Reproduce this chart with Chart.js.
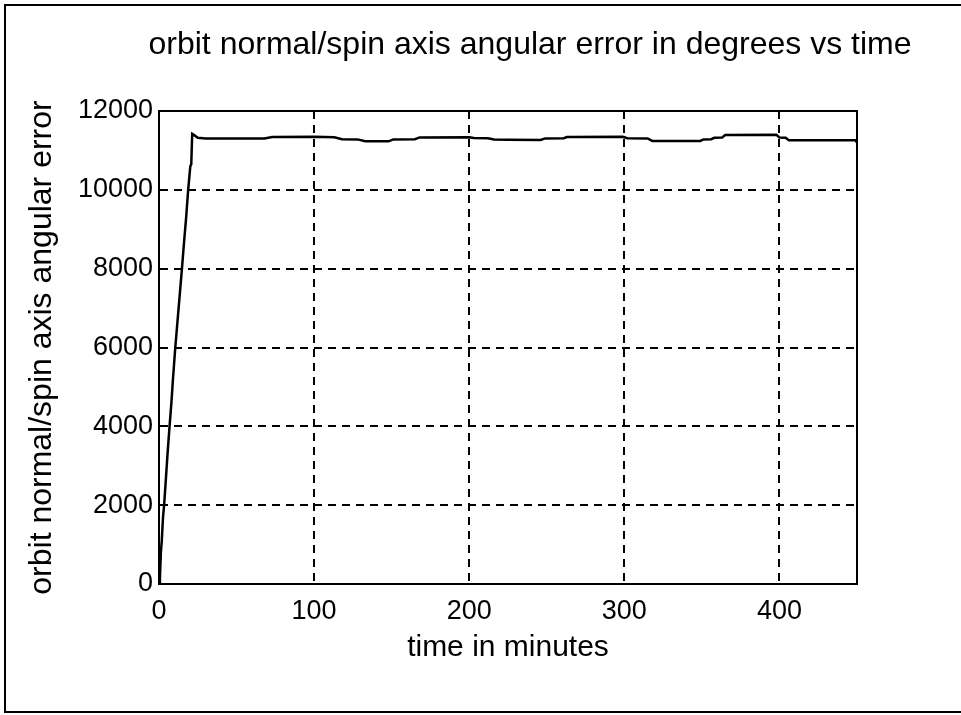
<!DOCTYPE html>
<html>
<head>
<meta charset="utf-8">
<title>orbit normal/spin axis angular error</title>
<script src="https://cdn.jsdelivr.net/npm/chart.js@4.4.0/dist/chart.umd.min.js"></script>
<style>
    html, body { margin: 0; padding: 0; background: #fff; }
    #wrap { width: 961px; height: 715px; }
</style>
</head>
<body>
<div id="wrap"><canvas id="errorChart" width="961" height="715"></canvas></div>
<script>
// Erreur angulaire (degrés), en fonction du temps (minutes)
const timeMinutes = [
    0, 0.6, 1.2, 1.8, 2.6, 3.3, 4.5, 5.5, 6.8, 8, 9, 10.5, 12, 13.5, 14.8, 16, 17.5,
    18.8, 20.2, 20.8, 21.4, 22.2, 25, 30, 50, 68, 73, 100, 113, 118, 128, 133, 148,
    151, 165, 168, 200, 203, 212, 216, 225, 246, 249, 261, 263, 299, 302, 315, 318,
    349, 351, 356, 358, 363, 365, 398, 400, 404, 406, 449, 450
];
const angularError = [
    0, 150, 800, 1100, 1700, 2000, 2700, 3300, 4000, 4600, 5200, 6000, 6700, 7400, 8000, 8600, 9300,
    10000, 10600, 10650, 11420, 11400, 11320, 11300, 11300, 11305, 11340, 11345, 11335, 11285, 11280, 11235, 11230,
    11280, 11285, 11330, 11335, 11315, 11310, 11275, 11270, 11265, 11305, 11310, 11340, 11345, 11310, 11305, 11240,
    11240, 11280, 11285, 11320, 11325, 11390, 11395, 11330, 11320, 11260, 11255, 11200
];

// Graduations des axes
const xTickValues = [0, 100, 200, 300, 400];
const yTickValues = [0, 2000, 4000, 6000, 8000, 10000, 12000];

// Textes
const chartTitle = 'orbit normal/spin axis angular error in degrees vs time';
const xAxisTitle = 'time in minutes';
const yAxisTitle = 'orbit normal/spin axis angular error';

const fontFamily = "'Liberation Sans', Arial, Helvetica, sans-serif";

// Cadre de la figure, boîte des axes et titre
const figurePlugin = {
    id: 'figureFrame',
    afterDraw(chart) {
        const c = chart.ctx;
        const a = chart.chartArea;
        c.save();
        c.strokeStyle = '#000';
        c.lineWidth = 2;
        c.setLineDash([]);
        c.strokeRect(a.left, a.top, a.right - a.left, a.bottom - a.top);

        c.beginPath();
        c.moveTo(961, 5);
        c.lineTo(5, 5);
        c.lineTo(5, 712);
        c.lineTo(961, 712);
        c.stroke();

        c.fillStyle = '#000';
        c.font = '32px ' + fontFamily;
        c.textAlign = 'center';
        c.textBaseline = 'middle';
        c.fillText(chartTitle, 530, 45);
        c.restore();
    }
};

const ctx = document.getElementById('errorChart').getContext('2d');
const chart = new Chart(ctx, {
    type: 'line',
    data: {
        datasets: [{
            data: timeMinutes.map((t, i) => ({ x: t, y: angularError[i] })),
            borderColor: '#000',
            borderWidth: 2.5,
            pointRadius: 0,
            fill: false,
            tension: 0
        }]
    },
    options: {
        responsive: false,
        animation: false,
        layout: {
            padding: { left: 0, top: 111, right: 104, bottom: 0 }
        },
        plugins: {
            legend: { display: false },
            tooltip: { enabled: false },
            title: { display: false }
        },
        scales: {
            x: {
                type: 'linear',
                min: 0,
                max: 450,
                afterBuildTicks: function(scale) {
                    scale.ticks = xTickValues.map(v => ({ value: v }));
                },
                afterFit: function(scale) {
                    scale.height = 131;
                },
                grid: {
                    color: '#000',
                    lineWidth: 2,
                    drawTicks: false
                },
                border: { display: true, color: '#000', width: 2, dash: [8, 6] },
                ticks: {
                    color: '#000',
                    padding: 11,
                    maxRotation: 0,
                    font: { family: fontFamily, size: 27 },
                    callback: function(value) {
                        return String(value);
                    }
                },
                title: {
                    display: true,
                    text: xAxisTitle,
                    color: '#000',
                    padding: { top: 0, bottom: 49 },
                    font: { family: fontFamily, size: 30 }
                }
            },
            y: {
                type: 'linear',
                min: 0,
                max: 12000,
                afterBuildTicks: function(scale) {
                    scale.ticks = yTickValues.map(v => ({ value: v }));
                },
                afterFit: function(scale) {
                    scale.width = 159;
                },
                grid: {
                    color: '#000',
                    lineWidth: 2,
                    drawTicks: false
                },
                border: { display: true, color: '#000', width: 2, dash: [8, 6] },
                ticks: {
                    color: '#000',
                    padding: 6,
                    font: { family: fontFamily, size: 27 },
                    callback: function(value) {
                        return String(value);
                    }
                },
                title: {
                    display: true,
                    text: yAxisTitle,
                    color: '#000',
                    padding: { top: 23, bottom: 0 },
                    font: { family: fontFamily, size: 32 }
                }
            }
        }
    },
    plugins: [figurePlugin]
});
</script>
</body>
</html>
